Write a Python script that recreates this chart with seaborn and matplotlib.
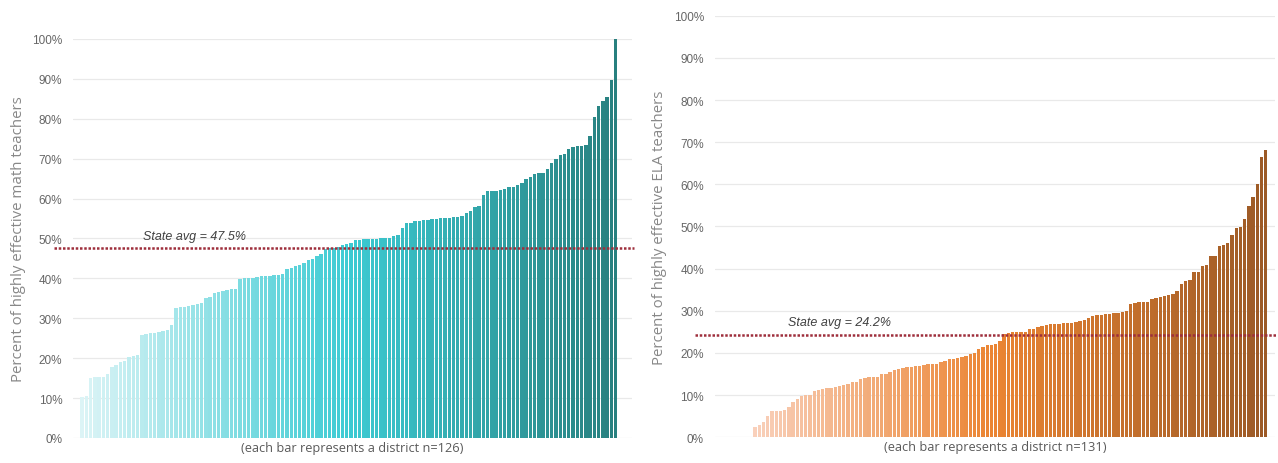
import pandas as pd
import seaborn as sns
import matplotlib.pyplot as plt
from matplotlib.colors import LinearSegmentedColormap
from matplotlib.ticker import PercentFormatter

# Données (pourcentages, districts triés)
math_pct = [
    10.2, 10.4, 15.1, 15.2, 15.3, 15.4, 16.0, 17.8, 18.2, 19.0,
    19.2, 20.2, 20.5, 20.8, 25.8, 26.0, 26.2, 26.4, 26.5, 26.8,
    27.0, 28.2, 32.6, 32.8, 32.9, 33.0, 33.4, 33.6, 33.8, 35.2,
    35.4, 36.4, 36.6, 36.9, 37.0, 37.3, 37.4, 39.8, 40.0, 40.1,
    40.2, 40.4, 40.5, 40.6, 40.7, 40.8, 40.9, 41.0, 42.4, 42.6,
    43.0, 43.3, 43.9, 44.5, 44.8, 45.6, 46.2, 47.3, 47.5, 47.6,
    47.8, 48.4, 48.6, 48.8, 49.6, 49.7, 49.8, 49.8, 49.9, 49.9,
    50.0, 50.0, 50.0, 50.5, 51.0, 52.6, 53.8, 54.0, 54.4, 54.5,
    54.6, 54.7, 55.0, 55.0, 55.1, 55.2, 55.2, 55.3, 55.5, 55.7,
    56.5, 56.8, 57.8, 58.2, 61.0, 61.8, 62.0, 62.0, 62.1, 62.5,
    62.8, 63.0, 63.5, 64.0, 65.0, 65.3, 66.2, 66.4, 66.5, 67.4,
    68.9, 69.9, 71.0, 71.3, 72.4, 73.0, 73.2, 73.3, 73.5, 75.8,
    80.5, 83.1, 84.5, 85.4, 89.8, 100.0,
]
ela_pct = [
    0, 0, 0, 0, 0, 0, 0, 0, 0,
    2.4, 2.8, 3.7, 5.1, 6.2, 6.3, 6.3, 6.5, 7.3, 8.4,
    9.1, 9.8, 10.0, 10.1, 11.0, 11.1, 11.4, 11.6, 11.8, 11.9,
    12.2, 12.4, 12.6, 13.0, 13.2, 13.8, 14.0, 14.3, 14.4, 14.4,
    14.9, 15.1, 15.6, 16.0, 16.3, 16.5, 16.6, 16.7, 16.8, 17.0,
    17.2, 17.3, 17.4, 17.5, 17.8, 18.0, 18.5, 18.6, 18.8, 19.0,
    19.3, 19.7, 19.9, 20.9, 21.5, 21.8, 22.0, 22.2, 22.9, 24.5,
    24.8, 24.9, 24.9, 25.0, 25.0, 25.6, 25.8, 26.1, 26.3, 26.7,
    26.8, 26.9, 26.9, 27.0, 27.0, 27.2, 27.4, 27.6, 27.8, 28.2,
    28.8, 29.0, 29.1, 29.2, 29.3, 29.4, 29.6, 29.8, 29.9, 31.7,
    31.9, 32.0, 32.0, 32.2, 32.8, 33.1, 33.3, 33.5, 33.7, 33.9,
    34.7, 36.4, 37.0, 37.2, 39.1, 39.3, 40.7, 40.9, 42.9, 43.1,
    45.3, 45.5, 46.2, 48.1, 49.7, 49.8, 51.7, 54.8, 57.0, 60.0,
    66.5, 68.1,
]
math_avg = 47.5
ela_avg = 24.2
y_ticks = list(range(0, 101, 10))

sns.set_style("white")
plt.rcParams["font.family"] = ["Open Sans", "DejaVu Sans"]
narrow = ["Liberation Sans Narrow", "Liberation Sans", "DejaVu Sans"]

fig = plt.figure(figsize=(12.78, 4.64), dpi=100)
ax1 = fig.add_axes([0.0575, 0.0539, 0.437, 0.8599])
ax2 = fig.add_axes([0.5595, 0.0554, 0.4382, 0.9086])

panels = [
    (ax1, math_pct, math_avg, ["#dcf4f6", "#3ccbd3", "#28807f"],
     "Percent of highly effective math teachers", (-2.0, 128.8), 0.124, 50.6),
    (ax2, ela_pct, ela_avg, ["#fbdcd0", "#eb8533", "#9c5a26"],
     "Percent of highly effective ELA teachers", (-0.5, 132.2), 0.130, 27.3),
]

for ax, vals, avg, stops, ylab, xlim, tx, ty in panels:
    n = len(vals)
    df = pd.DataFrame({"district": [f"D{i+1}" for i in range(n)], "pct": vals})
    cmap = LinearSegmentedColormap.from_list("grad", [(0, stops[0]), (0.5, stops[1]), (1, stops[2])])
    colors = [cmap(i / (n - 1)) for i in range(n)]
    ax.yaxis.grid(True, color="#e9e9e9", lw=0.9)
    ax.set_axisbelow(True)
    sns.barplot(data=df, x="district", y="pct", hue="district", palette=colors,
                legend=False, width=0.8, saturation=1, linewidth=0, ax=ax)
    ax.set_xlim(*xlim)
    ax.set_ylim(0, 100)
    ax.set_yticks(y_ticks)
    ax.yaxis.set_major_formatter(PercentFormatter(xmax=100, decimals=0))
    ax.set_xticks([])
    ax.tick_params(axis="y", length=0, pad=8, labelcolor="#666666", labelsize=8.5)
    for lab in ax.get_yticklabels():
        lab.set_family(narrow)
    sns.despine(ax=ax, left=True, bottom=True)
    ax.set_ylabel(ylab, color="#888888", fontsize=10.8)
    ax.yaxis.set_label_coords(-0.085, 0.5)
    ax.set_xlabel(f"(each bar represents a district n={n})", color="#5a5a5a", fontsize=9.2, labelpad=2)
    ax.plot([-0.035, 1.003], [avg, avg], transform=ax.get_yaxis_transform(),
            ls=(0, (1, 0.7)), color="#9e2f3c", lw=1.8, clip_on=False)
    ax.text(tx, ty, f"State avg = {avg}%", transform=ax.get_yaxis_transform(),
            fontsize=9, style="italic", color="#404040", family=narrow, va="center")

plt.savefig("out.png", dpi=100)
